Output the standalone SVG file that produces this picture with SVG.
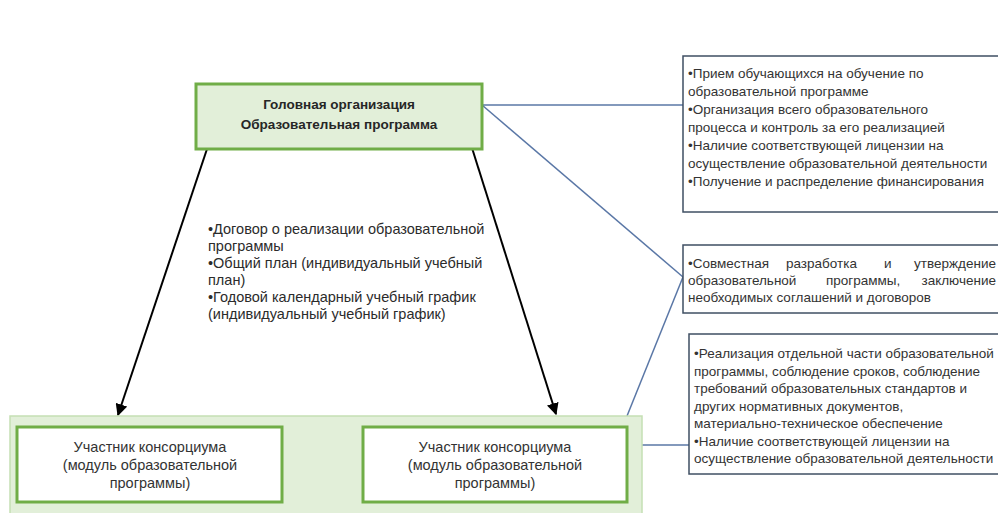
<svg xmlns="http://www.w3.org/2000/svg" width="998" height="513" viewBox="0 0 998 513">
<defs>
<marker id="ah" viewBox="0 0 10 10" refX="9" refY="5" markerWidth="6" markerHeight="6" orient="auto" markerUnits="strokeWidth">
<path d="M0,0 L10,5 L0,10 z" fill="#000"/>
</marker>
<style>
text{font-family:"Liberation Sans",Arial,sans-serif;fill:#333;font-size:13.5px}
.b{font-weight:bold;fill:#262626}
.c{text-anchor:middle;font-size:14.5px}
.m{font-size:14.5px;fill:#2b2b2b}
.info{fill:#fff;stroke:#3f4f63;stroke-width:1.5}
.green{fill:#e2efd9;stroke:#70ad47;stroke-width:3}
.inner{fill:#fff;stroke:#70ad47;stroke-width:3}
.con{fill:none;stroke:#5a77a6;stroke-width:1.5}
.arr{fill:none;stroke:#000;stroke-width:2;marker-end:url(#ah)}
</style>
</defs>
<rect width="998" height="513" fill="#fff"/>
<g id="connectors">
<line class="con" x1="482" y1="105" x2="683" y2="105"/>
<line class="con" x1="482" y1="105" x2="683" y2="277"/>
<line class="con" x1="683" y1="277" x2="627" y2="416"/>
<line class="con" x1="642" y1="445" x2="689" y2="445"/>
<line class="arr" x1="208" y1="146" x2="118" y2="415"/>
<line class="arr" x1="472" y1="148" x2="556" y2="414"/>
</g>
<g id="head">
<rect class="green" x="196" y="84" width="286" height="65"/>
<text class="b" x="339" y="109" text-anchor="middle">Головная организация</text>
<text class="b" x="339" y="129" text-anchor="middle">Образовательная программа</text>
</g>
<g id="info1">
<rect class="info" x="683" y="56" width="320" height="156"/>
<text x="688" y="78">•Прием обучающихся на обучение по</text>
<text x="688" y="96">образовательной программе</text>
<text x="688" y="114">•Организация всего образовательного</text>
<text x="688" y="132">процесса и контроль за его реализацией</text>
<text x="688" y="150">•Наличие соответствующей лицензии на</text>
<text x="688" y="168">осуществление образовательной деятельности</text>
<text x="688" y="186">•Получение и распределение финансирования</text>
</g>
<g id="info2">
<rect class="info" x="683" y="245" width="320" height="68"/>
<text y="268"><tspan x="688">•Совместная</tspan><tspan x="786">разработка</tspan><tspan x="884">и</tspan><tspan x="996" text-anchor="end">утверждение</tspan></text>
<text y="285"><tspan x="688">образовательной</tspan><tspan x="826">программы,</tspan><tspan x="996" text-anchor="end">заключение</tspan></text>
<text x="688" y="302">необходимых соглашений и договоров</text>
</g>
<g id="agreements">
<text class="m" x="208" y="234">•Договор о реализации образовательной</text>
<text class="m" x="208" y="251">программы</text>
<text class="m" x="208" y="268">•Общий план (индивидуальный учебный</text>
<text class="m" x="208" y="285">план)</text>
<text class="m" x="208" y="302">•Годовой календарный учебный график</text>
<text class="m" x="208" y="319">(индивидуальный учебный график)</text>
</g>
<g id="info3">
<rect class="info" x="689" y="334" width="320" height="140"/>
<text x="694" y="358">•Реализация отдельной части образовательной</text>
<text x="694" y="375.5">программы, соблюдение сроков, соблюдение</text>
<text x="694" y="393">требований образовательных стандартов и</text>
<text x="694" y="410.5">других нормативных документов,</text>
<text x="694" y="428">материально-техническое обеспечение</text>
<text x="694" y="445.5">•Наличие соответствующей лицензии на</text>
<text x="694" y="463">осуществление образовательной деятельности</text>
</g>
<g id="consortium">
<rect x="10" y="416" width="632" height="110" fill="#e2efd9" stroke="#c5e0b4" stroke-width="1.5"/>
</g>
<g id="member1">
<rect class="inner" x="17" y="427" width="265" height="75"/>
<text class="c" x="150" y="452">Участник консорциума</text>
<text class="c" x="150" y="470">(модуль образовательной</text>
<text class="c" x="150" y="488">программы)</text>
</g>
<g id="member2">
<rect class="inner" x="363" y="427" width="264" height="75"/>
<text class="c" x="495" y="452">Участник консорциума</text>
<text class="c" x="495" y="470">(модуль образовательной</text>
<text class="c" x="495" y="488">программы)</text>
</g>
</svg>
